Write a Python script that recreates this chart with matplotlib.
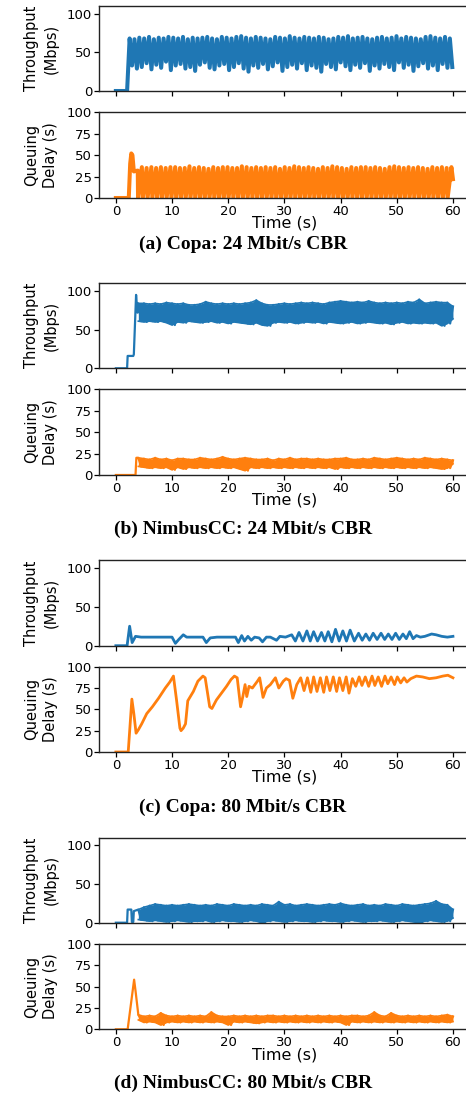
import numpy as np
import matplotlib
matplotlib.use("Agg")
import matplotlib.pyplot as plt

# ---------------- data ----------------
captions = ["(a) Copa: 24 Mbit/s CBR", "(b) NimbusCC: 24 Mbit/s CBR",
            "(c) Copa: 80 Mbit/s CBR", "(d) NimbusCC: 80 Mbit/s CBR"]
x_ticks = [0, 10, 20, 30, 40, 50, 60]
thr_ticks = [0, 50, 100]
dly_ticks = [0, 25, 50, 75, 100]

# (a) Copa 24 Mbit/s : oscillating throughput (peak/trough per cycle)
a_thr_pre_t = [0, 2.0]
a_thr_pre_v = [0, 0]
a_thr_peaks = [68, 67, 69, 68, 70, 67, 69, 68, 70, 69, 68, 70, 67, 69, 68, 69, 70, 68, 67, 70,
               69, 68, 70, 71, 69, 68, 70, 69, 68, 67, 70, 69, 68, 71, 69, 68, 70, 69, 68, 70,
               69, 67, 68, 70, 69, 71, 68, 69, 70, 68, 67, 69, 70, 68, 69, 71, 68, 70, 69, 68,
               67, 70, 71, 69, 68, 70, 68]
a_thr_troughs = [33, 29, 31, 36, 28, 34, 30, 38, 27, 33, 35, 29, 31, 26, 34, 37, 30, 28, 33, 35,
                 27, 31, 36, 29, 25, 33, 30, 35, 28, 32, 37, 26, 31, 34, 29, 36, 27, 33, 30, 25,
                 35, 31, 28, 37, 32, 27, 34, 30, 36, 26, 33, 29, 35, 31, 27, 37, 30, 34, 26, 32,
                 36, 29, 33, 27, 35, 30, 31]
a_thr_cycle_span = (2.45, 59.45)

a_dly_pre_t = [0, 2.3, 2.55, 2.75, 2.95, 3.2, 3.9]
a_dly_pre_v = [0, 0, 40, 52, 50, 31, 32]
a_dly_peaks = [36, 35, 36, 35, 36, 35, 36, 36, 35, 35, 37, 35, 36, 35, 34, 36, 35, 36, 36, 35,
               35, 37, 36, 35, 36, 35, 36, 35, 36, 34, 36, 35, 37, 36, 35, 36, 35, 34, 36, 35,
               37, 36, 35, 34, 36, 35, 36, 36, 35, 36, 35, 34, 36, 37, 36, 35, 36, 35, 36, 35,
               34, 36, 35, 36, 35, 36]
a_dly_floor = 0
a_dly_cycle_span = (3.95, 59.05)
a_dly_end = (60.0, 22)

# (b) NimbusCC 24 Mbit/s : noisy bands (upper / lower edge each second, t = 4..60)
b_thr_pre_t = [0, 2.0, 2.1, 3.1, 3.2, 3.6, 3.85]
b_thr_pre_v = [0, 0, 16, 16, 18, 95, 72]
b_thr_hi = [84, 84, 83, 84, 83, 85, 84, 83, 84, 82, 82, 83, 86, 84, 83, 84, 83, 84, 83, 84,
            85, 88, 84, 82, 82, 83, 84, 83, 84, 85, 84, 85, 84, 83, 85, 86, 87, 86, 85, 86,
            85, 87, 85, 84, 85, 84, 85, 84, 86, 85, 89, 84, 85, 86, 85, 85, 80]
b_thr_lo = [61, 60, 61, 60, 61, 59, 56, 60, 59, 61, 60, 59, 60, 61, 59, 60, 58, 60, 59, 58,
            57, 59, 56, 55, 59, 60, 59, 60, 58, 59, 60, 59, 60, 58, 60, 59, 58, 59, 60, 58,
            59, 60, 59, 58, 59, 57, 59, 60, 58, 59, 58, 59, 58, 59, 55, 58, 64]
b_dly_pre_t = [0, 3.5, 3.65]
b_dly_pre_v = [0, 0, 20]
b_dly_hi = [20, 19, 18, 20, 18, 19, 17, 19, 19, 18, 18, 20, 19, 18, 19, 21, 19, 18, 19, 20,
            19, 18, 18, 19, 17, 19, 18, 20, 18, 19, 19, 18, 19, 18, 18, 19, 19, 20, 18, 18,
            19, 18, 20, 19, 18, 19, 20, 19, 18, 19, 18, 20, 19, 18, 19, 18, 17]
b_dly_lo = [10, 9, 8, 9, 8, 9, 6, 9, 7, 9, 8, 9, 8, 9, 8, 9, 8, 9, 7, 5,
            9, 8, 9, 8, 9, 8, 9, 8, 9, 8, 9, 8, 9, 8, 9, 7, 9, 8, 9, 8,
            9, 8, 9, 8, 9, 8, 9, 8, 9, 8, 9, 8, 9, 8, 7, 8, 13]

# (c) Copa 80 Mbit/s : traced curves
c_thr_t = [0, 2.0, 2.45, 2.9, 3.5, 4.5, 6, 8, 10.0, 10.6, 11.2, 12.0, 12.6, 14, 15.5, 16.1,
           16.8, 18, 20, 21.3, 21.8, 22.4, 22.9, 23.5, 24.1, 24.7, 25.5, 26.1, 26.8, 27.5,
           28.6, 29.2, 30.2, 31.3, 31.95, 32.6, 33.3, 34.0, 34.6, 35.2, 35.9, 36.6, 37.2,
           37.8, 38.45, 39.1, 39.75, 40.4, 41.05, 41.7, 42.45, 43.2, 43.85, 44.5, 45.15,
           45.8, 46.5, 47.2, 47.85, 48.5, 49.15, 49.8, 50.45, 51.1, 51.7, 52.3, 52.9, 53.5,
           54.2, 55.0, 56.2, 57.0, 58.0, 59.0, 60.0]
c_thr_v = [0, 0, 25, 4, 12, 11, 11, 11, 11, 3, 8, 14, 11, 11, 11, 4, 10, 11, 11, 11,
           4, 13, 6, 12, 7, 11, 10, 5, 11, 11, 7, 12, 11, 14, 6, 17, 6, 19, 6, 18,
           6, 17, 6, 18, 5, 21, 6, 19, 6, 20, 6, 16, 7, 15, 7, 16, 8, 16, 8, 15,
           8, 16, 8, 15, 9, 18, 9, 13, 11, 12, 15, 14, 12, 11, 12]
c_dly_t = [0, 2.2, 2.85, 3.2, 3.6, 4.0, 4.6, 5.5, 6.5, 7.6, 8.8, 9.6, 10.25, 10.8, 11.4,
           11.6, 12.0, 12.4, 12.8, 13.8, 14.6, 15.5, 15.9, 16.7, 17.1, 17.9, 18.8, 19.7,
           20.5, 21.1, 21.6, 22.2, 22.6, 23.0, 23.3, 23.7, 24.3, 25.2, 25.6, 26.2, 26.8,
           27.5, 28.4, 29.0, 29.8, 30.3, 30.9, 31.5, 32.2, 32.9, 33.5, 34.1, 34.7, 35.2,
           35.8, 36.4, 37.0, 37.5, 38.1, 38.7, 39.3, 39.8, 40.4, 41.0, 41.5, 42.1, 42.7,
           43.3, 43.8, 44.4, 45.0, 45.6, 46.1, 46.7, 47.3, 47.9, 48.4, 49.0, 49.6, 50.1,
           50.7, 51.3, 51.8, 52.5, 53.5, 54.6, 55.8, 57.0, 58.2, 59.1, 60.0]
c_dly_v = [0, 0, 62, 45, 22, 26, 33, 45, 53, 63, 75, 82, 89, 61, 28,
           25, 28, 33, 60, 71, 83, 89, 87, 53, 51, 61, 69, 77,
           85, 89, 87, 53, 65, 79, 65, 77, 75, 83, 87, 64, 75,
           79, 87, 75, 83, 86, 84, 63, 79, 87, 72, 87, 70, 88,
           71, 87, 70, 88, 72, 88, 71, 87, 72, 88, 69, 86, 77,
           88, 78, 88, 77, 89, 78, 88, 77, 89, 80, 88, 79, 88,
           81, 87, 82, 86, 89, 88, 86, 87, 89, 90, 87]

# (d) NimbusCC 80 Mbit/s
d_thr_pre_t = [0, 2.0, 2.1, 2.75, 2.85, 3.1, 3.2, 3.6]
d_thr_pre_v = [0, 0, 17, 17, 1, 1, 15, 16]
d_thr_hi = [17, 20, 22, 24, 23, 22, 23, 22, 23, 24, 23, 22, 23, 22, 24, 23, 22, 24, 23, 22,
            23, 22, 24, 23, 22, 27, 23, 24, 22, 23, 24, 23, 22, 23, 24, 23, 25, 23, 22, 23,
            24, 22, 23, 22, 24, 23, 22, 24, 23, 22, 23, 24, 25, 28, 24, 23, 17]
d_thr_lo = [4, 3, 2, 3, 2, 1, 2, 3, 2, 1, 2, 2, 3, 1, 2, 3, 2, 2, 1, 2,
            3, 2, 0, 2, 3, 2, 1, 2, 3, 2, 2, 1, 2, 3, 2, 2, 1, 2, 3, 2,
            1, 2, 2, 3, 2, 1, 2, 3, 2, 1, 0, 2, 3, 2, 1, 2, 6]
d_dly_pre_t = [0, 2.1, 3.25, 3.5, 4.0]
d_dly_pre_v = [0, 0, 58, 45, 17]
d_dly_hi = [17, 15, 16, 15, 19, 16, 15, 16, 15, 16, 15, 16, 15, 20, 16, 15, 15, 16, 15, 16,
            15, 16, 15, 16, 16, 15, 16, 15, 16, 15, 16, 15, 16, 15, 16, 15, 16, 15, 16, 16,
            15, 16, 20, 16, 15, 19, 16, 15, 16, 15, 16, 15, 16, 15, 16, 17, 15]
d_dly_lo = [11, 8, 9, 8, 5, 8, 9, 8, 9, 8, 9, 8, 9, 8, 9, 8, 5, 9, 8, 9,
            8, 7, 8, 9, 8, 9, 8, 9, 8, 9, 8, 9, 8, 9, 8, 9, 8, 5, 9, 8,
            9, 8, 9, 8, 9, 8, 9, 8, 9, 8, 9, 8, 9, 8, 9, 8, 9]
band_span = (4, 60)

# ---------------- figure ----------------
W, H = 466, 1099
fig = plt.figure(figsize=(W / 100, H / 100), dpi=100)
BLUE, ORANGE = "#1f77b4", "#ff7f0e"
LW = 2.0

panel_px = [(6, 91, 112.3, 198, 244),
            (283.3, 368.3, 389, 475, 529),
            (560, 645.7, 666.7, 752, 807),
            (837.7, 922.7, 943.7, 1029.3, 1083)]
LEFT, RIGHT = 99, 469.8


def add_ax(top, bottom):
    return fig.add_axes([LEFT / W, 1 - bottom / H, (RIGHT - LEFT) / W, (bottom - top) / H])


def style(ax, kind):
    ax.set_xlim(-3, 63)
    ax.set_xticks(x_ticks)
    for s in ax.spines.values():
        s.set_linewidth(1.0)
        s.set_color("#222222")
    ax.tick_params(labelsize=9.5, length=3.5, width=0.9, pad=1.5)
    if kind == "thr":
        ax.set_ylim(0, 110)
        ax.set_yticks(thr_ticks)
        ax.set_ylabel("Throughput\n(Mbps)", fontsize=10.5, labelpad=6, linespacing=1.35)
        ax.tick_params(axis="x", labelbottom=False)
    else:
        ax.set_ylim(0, 100)
        ax.set_yticks(dly_ticks)
        ax.set_ylabel("Queuing\nDelay (s)", fontsize=10.5, labelpad=6, linespacing=1.35)
        ax.set_xlabel("Time (s)", fontsize=11.5, labelpad=-1.5)


def draw_band(ax, pre_t, pre_v, hi, lo, color):
    n = min(len(hi), len(lo))
    t = np.linspace(band_span[0], band_span[1], n)
    hi = np.asarray(hi[:n], float)
    lo = np.asarray(lo[:n], float)
    ax.fill_between(t, lo, hi, color=color, lw=0)
    zt, zv = list(pre_t), list(pre_v)
    step = t[1] - t[0]
    for i in range(n):
        zt.append(t[i]); zv.append(hi[i])
        if i < n - 1:
            zt.append(t[i] + step / 2); zv.append(lo[i])
    ax.plot(zt, zv, color=color, lw=1.6)
    ax.plot(t, hi, color=color, lw=1.2)
    ax.plot(t, lo, color=color, lw=1.2)


axes = []
for (t1, b1, t2, b2, cy), cap in zip(panel_px, captions):
    a1 = add_ax(t1, b1)
    a2 = add_ax(t2, b2)
    style(a1, "thr")
    style(a2, "dly")
    axes.append((a1, a2))
    fig.text(243 / W, 1 - cy / H, cap, ha="center", va="center",
             fontfamily="Liberation Serif", fontweight="bold", fontsize=14)

# (a)
ax1, ax2 = axes[0]
n = min(len(a_thr_peaks), len(a_thr_troughs))
pk_t = np.linspace(a_thr_cycle_span[0], a_thr_cycle_span[1], n)
half = (pk_t[1] - pk_t[0]) / 2
tt, vv = list(a_thr_pre_t), list(a_thr_pre_v)
for i in range(n):
    tt += [pk_t[i], pk_t[i] + half]
    vv += [a_thr_peaks[i], a_thr_troughs[i]]
ax1.plot(tt, vv, color=BLUE, lw=2.9)

m = len(a_dly_peaks)
st = np.linspace(a_dly_cycle_span[0], a_dly_cycle_span[1], m)
per = st[1] - st[0]
tt, vv = list(a_dly_pre_t), list(a_dly_pre_v)
for i in range(m):
    tt += [st[i], st[i] + 0.8 * per]
    vv += [a_dly_floor, a_dly_peaks[i]]
tt.append(a_dly_end[0]); vv.append(a_dly_end[1])
ax2.plot(tt, vv, color=ORANGE, lw=2.9)

# (b)
ax1, ax2 = axes[1]
draw_band(ax1, b_thr_pre_t, b_thr_pre_v, b_thr_hi, b_thr_lo, BLUE)
draw_band(ax2, b_dly_pre_t, b_dly_pre_v, b_dly_hi, b_dly_lo, ORANGE)

# (c)
ax1, ax2 = axes[2]
ax1.plot(c_thr_t, c_thr_v, color=BLUE, lw=LW)
ax2.plot(c_dly_t, c_dly_v, color=ORANGE, lw=LW)

# (d)
ax1, ax2 = axes[3]
draw_band(ax1, d_thr_pre_t, d_thr_pre_v, d_thr_hi, d_thr_lo, BLUE)
draw_band(ax2, d_dly_pre_t, d_dly_pre_v, d_dly_hi, d_dly_lo, ORANGE)

fig.savefig("out.png", dpi=100)
